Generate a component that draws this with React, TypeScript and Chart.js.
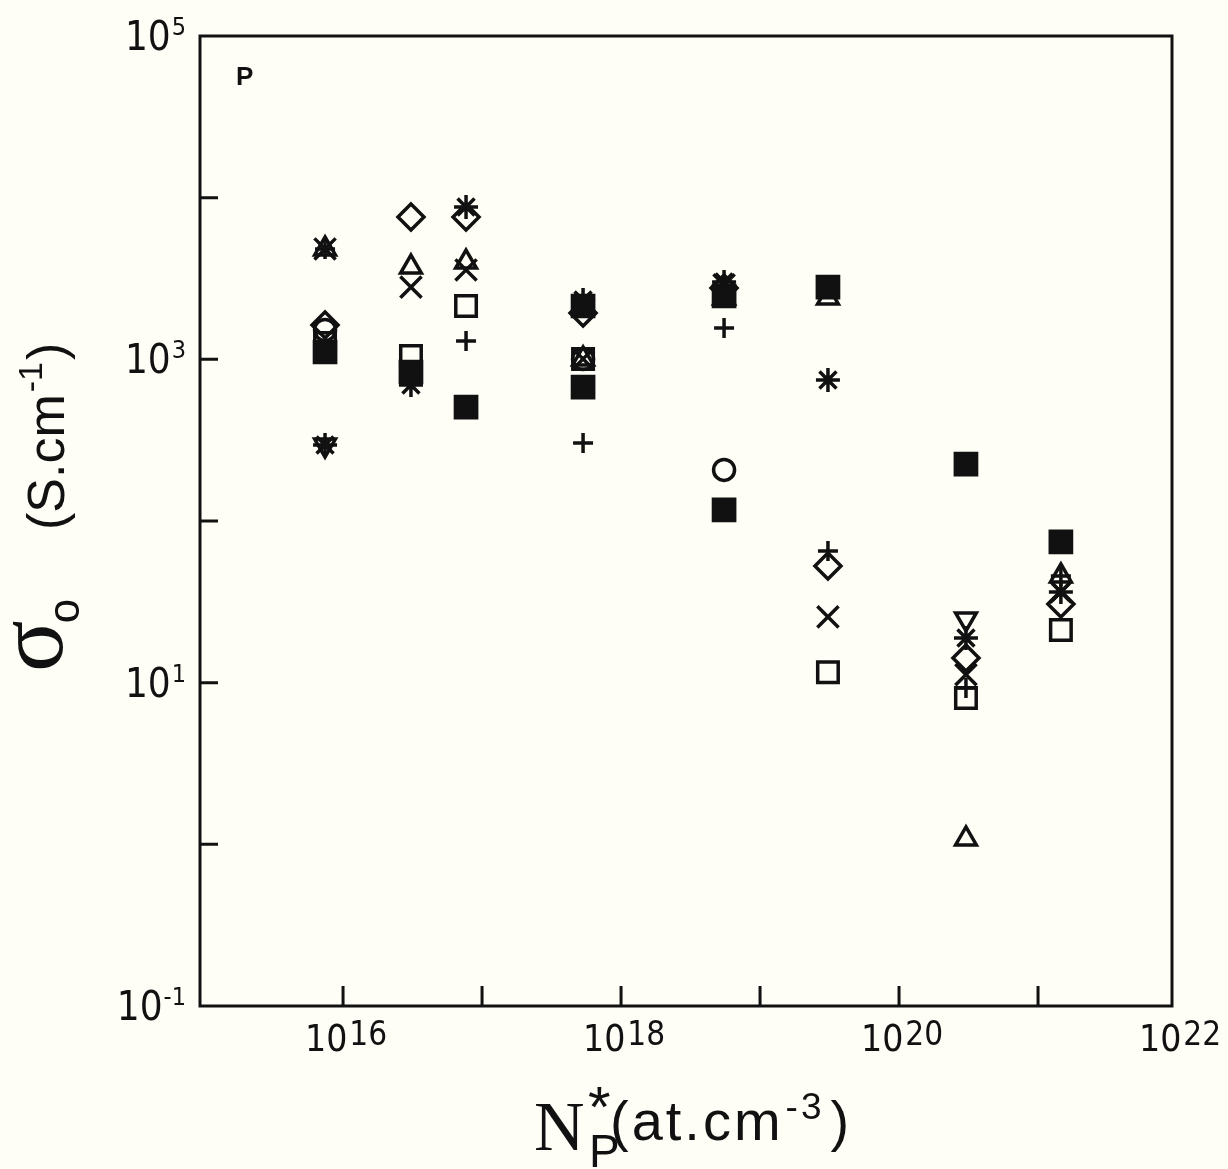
import React, { useEffect, useRef } from 'react';
import { Chart, registerables } from 'chart.js';

Chart.register(...registerables);

const W = 1228;
const H = 1169;

// Dopant concentration of each measured column (at.cm-3)
const concentrations = [7.42e15, 3.08e16, 7.67e16, 5.33e17, 5.51e18, 3.08e19, 3.03e20, 1.46e21];

// sigma_0 values (S.cm-1) per marker family, one entry per concentration column
const asteriskValues = [295, 694, 8750, 2328, 3010, 745, 18.9, 36.4];
const crossValues = [4815, 2800, 3570, 1005, 2884, 25.5, 11.2, 36.4];
const plusValues = [4815, null, 1298, 304, 1563, 65.2, 9.27, 45.7];
const triangleUpValues = [4815, 3725, 4000, 1005, 2395, 2395, 1.08, 45.7];
const triangleDownValues = [295, null, null, null, null, null, 24.8, null];
const diamondValues = [1631, 7590, 7590, 1935, 2760, 52.7, 14.2, 30.7];
const circleValues = [1519, null, null, 1005, 207, null, null, null];
const openSquareValues = [1262, 1049, 2138, 1005, 2464, 11.6, 8.04, 21.2];
const filledSquareValues = [1110, 835, 507, 674, 117, null, 225, 74.2];
const filledSquareBValues = [null, null, null, 2138, 2464, 2800, null, null];

// Axis range and decorations (powers of ten)
const xMin = 9.35e14;
const xMax = 9.2e21;
const yMin = 0.1;
const yMax = 1e5;
const xTickExponents = [16, 17, 18, 19, 20, 21];
const xLabelExponents = [16, 18, 20, 22];
const yTickExponents = [0, 1, 2, 3, 4];
const yLabelExponents = [5, 3, 1, -1];

const BG = '#fefef6';
const INK = '#111111';
const NARROW = "'Liberation Sans Narrow', 'DejaVu Sans Condensed', 'Liberation Sans', Arial, sans-serif";
const SANS = "'Liberation Sans', Arial, sans-serif";
const SERIF = "'Liberation Serif', 'Times New Roman', serif";

type Pt = { x: number; y: number };
const toPoints = (vals: (number | null)[]): Pt[] =>
  vals
    .map((v, i) => (v == null ? null : { x: concentrations[i], y: v }))
    .filter((p): p is Pt => p !== null);

const seriesDefs = [
  { label: 'filled square', vals: filledSquareValues, style: 'rect', r: 15, fill: true, rot: 0 },
  { label: 'filled square B', vals: filledSquareBValues, style: 'rect', r: 15, fill: true, rot: 0 },
  { label: 'open square', vals: openSquareValues, style: 'rect', r: 14.5, fill: false, rot: 0 },
  { label: 'circle', vals: circleValues, style: 'circle', r: 10.5, fill: false, rot: 0 },
  { label: 'diamond', vals: diamondValues, style: 'rectRot', r: 13, fill: false, rot: 0 },
  { label: 'triangle up', vals: triangleUpValues, style: 'triangle', r: 12, fill: false, rot: 0 },
  { label: 'triangle down', vals: triangleDownValues, style: 'triangle', r: 12, fill: false, rot: 180 },
  { label: 'x', vals: crossValues, style: 'crossRot', r: 15, fill: false, rot: 0 },
  { label: 'plus', vals: plusValues, style: 'cross', r: 10, fill: false, rot: 0 },
  { label: 'asterisk', vals: asteriskValues, style: 'star', r: 12, fill: false, rot: 0 },
];

function drawPow(
  ctx: CanvasRenderingContext2D,
  sup: string,
  x: number,
  baseline: number,
  align: 'center' | 'right',
  baseFont: string,
  supFont: string,
  raise: number,
  gap: number
) {
  ctx.font = baseFont;
  const bw = ctx.measureText('10').width;
  ctx.font = supFont;
  const sw = ctx.measureText(sup).width;
  const total = bw + gap + sw;
  const left = align === 'center' ? x - total / 2 : x - total;
  ctx.textAlign = 'left';
  ctx.font = baseFont;
  ctx.fillText('10', left, baseline);
  ctx.font = supFont;
  ctx.fillText(sup, left + bw + gap, baseline - raise);
}

const decorPlugin = {
  id: 'decor',
  beforeDraw(chart: any) {
    const { ctx } = chart;
    ctx.save();
    ctx.fillStyle = BG;
    ctx.fillRect(0, 0, chart.width, chart.height);
    ctx.restore();
  },
  afterDraw(chart: any) {
    const { ctx, chartArea: a } = chart;
    const xs = chart.scales.x;
    const ys = chart.scales.y;
    ctx.save();
    ctx.strokeStyle = INK;
    ctx.fillStyle = INK;
    ctx.lineWidth = 3;
    ctx.strokeRect(a.left, a.top, a.right - a.left, a.bottom - a.top);

    ctx.beginPath();
    xTickExponents.forEach((e) => {
      const px = xs.getPixelForValue(Math.pow(10, e));
      ctx.moveTo(px, a.bottom);
      ctx.lineTo(px, a.bottom - 20);
    });
    yTickExponents.forEach((e) => {
      const py = ys.getPixelForValue(Math.pow(10, e));
      ctx.moveTo(a.left, py);
      ctx.lineTo(a.left + 18, py);
    });
    ctx.stroke();

    ctx.textBaseline = 'alphabetic';
    // x tick labels
    xLabelExponents.forEach((e) => {
      const px = Math.min(xs.getPixelForValue(Math.pow(10, e)), a.right + 6);
      drawPow(ctx, String(e), px + 3, a.bottom + 45, 'center', `37px ${NARROW}`, `33px ${NARROW}`, 6, 2);
    });
    // y tick labels
    yLabelExponents.forEach((e) => {
      const py = ys.getPixelForValue(Math.pow(10, e));
      drawPow(ctx, String(e), a.left - 14, py + 14, 'right', `40px ${NARROW}`, `25px ${NARROW}`, 15, 1);
    });

    // panel letter
    ctx.textAlign = 'left';
    ctx.font = `bold 26px ${SANS}`;
    ctx.fillText('P', 236, 85);

    // x axis title: N*_P (at.cm-3)
    ctx.font = `70px ${SERIF}`;
    ctx.fillText('N', 534, 1150);
    ctx.font = `58px ${SANS}`;
    ctx.fillText('*', 588, 1127);
    ctx.font = `46px ${SANS}`;
    ctx.fillText('P', 589, 1167);
    (ctx as any).letterSpacing = '3px';
    ctx.font = `56px ${SANS}`;
    ctx.fillText('(at.cm', 610, 1140);
    let w = ctx.measureText('(at.cm').width;
    ctx.font = `37px ${SANS}`;
    ctx.fillText('-3', 610 + w + 2, 1119);
    const w2 = ctx.measureText('-3').width;
    ctx.font = `56px ${SANS}`;
    ctx.fillText(')', 610 + w + 8 + w2, 1140);
    (ctx as any).letterSpacing = '0px';

    // y axis title: sigma_o (S.cm-1), rotated
    ctx.save();
    ctx.translate(64, 672);
    ctx.rotate(-Math.PI / 2);
    ctx.font = `96px ${SERIF}`;
    ctx.fillText('σ', 0, -2);
    const sgw = ctx.measureText('σ').width;
    ctx.font = `44px ${SANS}`;
    ctx.fillText('o', sgw - 3, 15);
    ctx.font = `52px ${SANS}`;
    ctx.fillText('(S.cm', 142, 0);
    w = ctx.measureText('(S.cm').width;
    ctx.font = `34px ${SANS}`;
    ctx.fillText('-1', 142 + w + 2, -22);
    const w3 = ctx.measureText('-1').width;
    ctx.font = `52px ${SANS}`;
    ctx.fillText(')', 142 + w + 4 + w3, 0);
    ctx.restore();

    ctx.restore();
  },
};

export default function App() {
  const ref = useRef<HTMLCanvasElement | null>(null);

  useEffect(() => {
    document.body.style.margin = '0';
    document.body.style.background = BG;
    const canvas = ref.current;
    if (!canvas) return;
    const chart = new Chart(canvas, {
      type: 'scatter',
      data: {
        datasets: seriesDefs.map((s) => ({
          label: s.label,
          data: toPoints(s.vals),
          pointStyle: s.style as any,
          pointRadius: s.r,
          pointHoverRadius: s.r,
          pointRotation: s.rot,
          borderColor: INK,
          backgroundColor: s.fill ? INK : 'rgba(0,0,0,0)',
          borderWidth: 3.5,
          pointBorderWidth: 3.5,
          showLine: false,
        })),
      },
      options: {
        animation: false,
        responsive: false,
        maintainAspectRatio: false,
        events: [],
        layout: { padding: { left: 200, top: 36, right: W - 1172, bottom: H - 1006 } },
        plugins: { legend: { display: false }, tooltip: { enabled: false } },
        scales: {
          x: { type: 'logarithmic', min: xMin, max: xMax, display: false },
          y: { type: 'logarithmic', min: yMin, max: yMax, display: false },
        },
      },
      plugins: [decorPlugin],
    });
    return () => chart.destroy();
  }, []);

  return (
    <div style={{ width: W, height: H, background: BG }}>
      <canvas ref={ref} width={W} height={H} style={{ display: 'block', width: W, height: H }} />
    </div>
  );
}
